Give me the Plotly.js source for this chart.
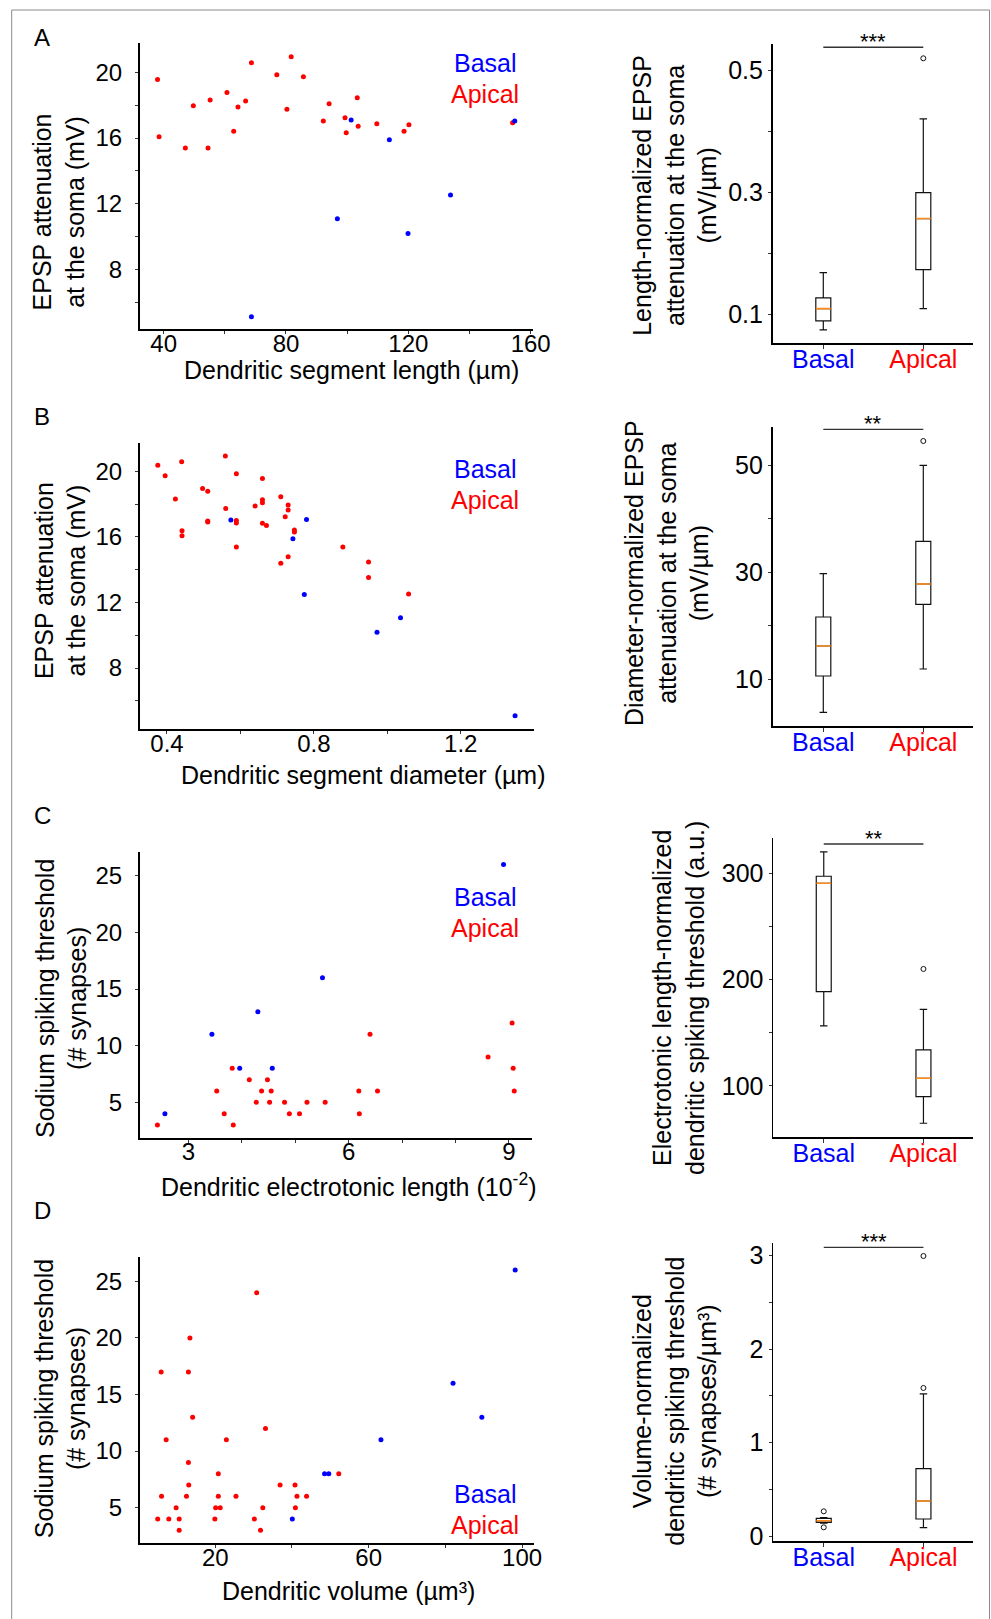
<!DOCTYPE html>
<html><head><meta charset="utf-8">
<script src="https://cdn.plot.ly/plotly-3.0.1.min.js"></script>
<style>html,body{margin:0;padding:0;background:#fff}#chart{width:991px;height:1619px}</style>
</head><body><div id="chart"></div>
<script>
// ---------- DATA ----------
// Panel A: EPSP attenuation vs segment length
const lenApicalX = [38.0, 38.5, 47.1, 49.7, 54.5, 55.2, 60.7, 62.9, 64.3, 66.8, 68.7, 77.0, 80.3, 81.7, 85.7, 92.2, 94.1, 99.3, 99.7, 103.3, 103.6, 109.7, 118.6, 120.2, 154.1];
const lenApicalY = [19.57, 16.08, 15.39, 17.97, 15.39, 18.31, 18.78, 16.41, 17.89, 18.25, 20.59, 19.86, 17.75, 20.95, 19.74, 17.04, 18.09, 17.24, 16.32, 18.46, 16.71, 16.87, 16.41, 16.81, 16.93];
const lenBasalX = [101.3, 113.8, 154.8, 96.8, 133.8, 119.9, 68.7];
const lenBasalY = [17.10, 15.90, 17.04, 11.09, 12.53, 10.19, 5.12];
// Panel B: EPSP attenuation vs segment diameter
const diaApicalX = [0.375, 0.395, 0.423, 0.440, 0.441, 0.441, 0.497, 0.511, 0.511, 0.511, 0.559, 0.560, 0.589, 0.589, 0.589, 0.589, 0.640, 0.660, 0.660, 0.660, 0.660, 0.671, 0.710, 0.710, 0.730, 0.730, 0.730, 0.722, 0.747, 0.747, 0.879, 0.949, 0.949, 1.058];
const diaApicalY = [20.37, 19.74, 18.31, 20.59, 16.38, 16.07, 18.96, 18.78, 16.97, 16.91, 20.94, 17.74, 19.86, 17.01, 16.85, 15.38, 17.88, 19.57, 18.27, 18.09, 16.83, 16.70, 18.45, 14.39, 17.95, 17.64, 14.79, 17.23, 16.42, 16.30, 15.38, 14.47, 13.53, 12.52];
const diaBasalX = [0.574, 0.780, 0.743, 0.774, 0.972, 1.036, 1.348];
const diaBasalY = [17.03, 17.07, 15.89, 12.49, 10.18, 11.07, 5.09];
// Panel C: spiking threshold vs electrotonic length
const eleApicalX = [2.42, 3.53, 3.67, 3.82, 3.84, 4.14, 4.27, 4.37, 4.48, 4.52, 4.55, 4.80, 4.89, 5.08, 5.22, 5.56, 6.19, 6.20, 6.40, 6.54, 8.61, 9.06, 9.08, 9.10];
const eleApicalY = [3, 6, 4, 8, 3, 7, 5, 6, 7, 5, 6, 5, 4, 4, 5, 5, 6, 4, 11, 6, 9, 12, 8, 6];
const eleBasalX = [2.56, 3.44, 3.96, 4.30, 4.57, 5.51, 8.90];
const eleBasalY = [4, 11, 8, 13, 8, 16, 26];
// Panel D: spiking threshold vs volume
const volApicalX = [5.0, 5.9, 6.0, 7.2, 7.9, 9.8, 10.6, 10.6, 12.5, 13.0, 13.0, 13.1, 13.4, 14.1, 19.9, 20.1, 20.8, 20.8, 21.3, 22.9, 25.4, 30.2, 30.8, 31.8, 32.4, 33.1, 36.9, 40.8, 40.9, 41.3, 43.8, 52.2];
const volApicalY = [4, 17, 6, 11, 4, 5, 4, 3, 6, 17, 9, 7, 20, 13, 4, 5, 8, 6, 5, 11, 6, 4, 24, 3, 5, 12, 7, 7, 5, 6, 6, 8];
const volBasalX = [40.1, 48.5, 49.6, 63.2, 82.0, 89.5, 98.2];
const volBasalY = [4, 8, 8, 11, 16, 13, 26];

// Box plot summaries: [Basal, Apical]
const boxGroups = ['Basal', 'Apical'];
const boxALower = [0.075, 0.1098], boxAQ1 = [0.0896, 0.1737], boxAMed = [0.1098, 0.2572], boxAQ3 = [0.1273, 0.2997], boxAUpper = [0.1688, 0.4203];
const boxAOutBasal = [], boxAOutApical = [0.5196];
const boxBLower = [3.84, 11.93], boxBQ1 = [10.62, 24.0], boxBMed = [16.22, 27.79], boxBQ3 = [21.63, 35.75], boxBUpper = [29.72, 49.94];
const boxBOutBasal = [], boxBOutApical = [54.48];
const boxCLower = [156.4, 64.9], boxCQ1 = [188.7, 90.0], boxCMed = [290.6, 107.2], boxCQ3 = [297.2, 133.9], boxCUpper = [320.1, 172.1];
const boxCOutBasal = [], boxCOutApical = [210.0];
const boxDLower = [0.14, 0.093], boxDQ1 = [0.149, 0.185], boxDMed = [0.167, 0.377], boxDQ3 = [0.192, 0.722], boxDUpper = [0.20, 1.520];
const boxDOutBasal = [0.267, 0.096], boxDOutApical = [1.584, 2.993];
const sigLevels = [0.5377, 56.66, 327.6, 3.085];
const sigLabels = ['***', '**', '**', '***'];

// ---------- LAYOUT HELPERS ----------
const W = 991, H = 1619;
const FONT = 'Liberation Sans, Arial, sans-serif';
const RED = '#ff0000', BLUE = '#0000ff';
const px = x => x / W;
const py = y => 1 - y / H;
const dom = (x0, x1, y0, y1) => ({x: [px(x0), px(x1)], y: [py(y1), py(y0)]});

const scatterDom = [dom(139.8, 533.1, 43.3, 329.3), dom(139.8, 533.8, 442.7, 729), dom(139.8, 532.4, 851.7, 1137.7), dom(139.8, 533.8, 1256.7, 1543.3)];
const boxDom = [dom(772.7, 973, 44, 343.3), dom(772.7, 973, 426.7, 726), dom(773.3, 973, 838.3, 1137.3), dom(773.3, 973, 1242.7, 1541)];

const scatterXRange = [[32.2, 160.8], [0.326, 1.399], [2.09, 9.44], [0.33, 103.05]];
const scatterYRange = [[4.35, 21.77], [4.28, 21.75], [1.88, 27.12], [1.85, 27.18]];
const scatterXTicks = [{tick0: 0, dtick: 40, minor: 20}, {tick0: 0, dtick: 0.4, minor: 0.2}, {tick0: 0, dtick: 3, minor: 1}, {tick0: 20, dtick: 40, minor: 20}];
const scatterYTicks = [{tick0: 0, dtick: 4, minor: 2}, {tick0: 0, dtick: 4, minor: 2}, {tick0: 0, dtick: 5, minor: null}, {tick0: 0, dtick: 5, minor: null}];
const boxYRange = [[0.053, 0.543], [1.29, 57.15], [51.7, 332.9], [-0.05, 3.135]];
const boxYTicks = [{tick0: 0.1, dtick: 0.2, minor: 0.1}, {tick0: 10, dtick: 20, minor: 10}, {tick0: 0, dtick: 100, minor: 50}, {tick0: 0, dtick: 1, minor: 0.5}];

function axisBase(extra) {
  return Object.assign({
    showline: true, linecolor: '#000', linewidth: 1.8, showgrid: false, zeroline: false,
    ticks: 'outside', ticklen: 3, tickwidth: 1, tickcolor: '#333',
    tickfont: {family: FONT, size: 24, color: '#000'}, fixedrange: true
  }, extra);
}

const layout = {
  width: W, height: H, margin: {l: 0, r: 0, t: 0, b: 0},
  paper_bgcolor: '#fff', plot_bgcolor: 'rgba(0,0,0,0)',
  showlegend: false, hovermode: false,
  font: {family: FONT, color: '#000'},
  annotations: [], shapes: []
};

const data = [];
const scatterSets = [
  [lenBasalX, lenBasalY, lenApicalX, lenApicalY],
  [diaBasalX, diaBasalY, diaApicalX, diaApicalY],
  [eleBasalX, eleBasalY, eleApicalX, eleApicalY],
  [volBasalX, volBasalY, volApicalX, volApicalY]
];

for (let i = 0; i < 4; i++) {
  const n = i + 1;
  const sfx = n === 1 ? '' : String(n);
  const xt = scatterXTicks[i], yt = scatterYTicks[i];
  layout['xaxis' + sfx] = axisBase({domain: scatterDom[i].x, range: scatterXRange[i], anchor: 'y' + sfx,
    tickmode: 'linear', tick0: xt.tick0, dtick: xt.dtick, ticklabelstandoff: -11,
    minor: {dtick: xt.minor, tick0: 0, ticks: 'outside', ticklen: 3, tickcolor: '#333', showgrid: false}});
  const ymin = yt.minor ? {dtick: yt.minor, tick0: 0, ticks: 'outside', ticklen: 3, tickcolor: '#333', showgrid: false} : {ticks: ''};
  layout['yaxis' + sfx] = axisBase({domain: scatterDom[i].y, range: scatterYRange[i], anchor: 'x' + sfx,
    tickmode: 'linear', tick0: yt.tick0, dtick: yt.dtick, minor: ymin, ticklabelstandoff: 8});
  const s = scatterSets[i];
  data.push({type: 'scatter', mode: 'markers', x: s[2], y: s[3], xaxis: 'x' + sfx, yaxis: 'y' + sfx,
    marker: {color: RED, size: 5, line: {width: 0}}, cliponaxis: false});
  data.push({type: 'scatter', mode: 'markers', x: s[0], y: s[1], xaxis: 'x' + sfx, yaxis: 'y' + sfx,
    marker: {color: BLUE, size: 5, line: {width: 0}}, cliponaxis: false});
}

const boxSets = [
  [boxALower, boxAQ1, boxAMed, boxAQ3, boxAUpper, boxAOutBasal, boxAOutApical],
  [boxBLower, boxBQ1, boxBMed, boxBQ3, boxBUpper, boxBOutBasal, boxBOutApical],
  [boxCLower, boxCQ1, boxCMed, boxCQ3, boxCUpper, boxCOutBasal, boxCOutApical],
  [boxDLower, boxDQ1, boxDMed, boxDQ3, boxDUpper, boxDOutBasal, boxDOutApical]
];
const positions = [0, 1];
const BOXW = 0.15;

for (let i = 0; i < 4; i++) {
  const n = i + 5;
  const xr = 'x' + n, yr = 'y' + n;
  const yt = boxYTicks[i];
  layout['xaxis' + n] = axisBase({domain: boxDom[i].x, range: [-0.506, 1.497], anchor: yr,
    tickmode: 'array', tickvals: positions,
    ticktext: ['<span style="color:' + BLUE + '">' + boxGroups[0] + '</span>', '<span style="color:' + RED + '">' + boxGroups[1] + '</span>'],
    tickfont: {family: FONT, size: 25}, ticklen: 4, ticklabelstandoff: -11});
  layout['yaxis' + n] = axisBase({domain: boxDom[i].y, range: boxYRange[i], anchor: xr,
    tickmode: 'linear', tick0: yt.tick0, dtick: yt.dtick, tickfont: {family: FONT, size: 25, color: '#000'},
    minor: {dtick: yt.minor, tick0: 0, ticks: 'outside', ticklen: 3, tickcolor: '#333', showgrid: false},
    ticklabelstandoff: 0});
  const b = boxSets[i];
  data.push({type: 'box', x: positions, lowerfence: b[0], q1: b[1], median: b[2], q3: b[3], upperfence: b[4],
    xaxis: xr, yaxis: yr, width: BOXW, whiskerwidth: 0.5, boxpoints: false,
    line: {color: '#111', width: 1.2}, fillcolor: 'rgba(0,0,0,0)'});
  // orange medians
  const mx = [], my = [];
  positions.forEach((p, k) => { mx.push(p - BOXW / 2, p + BOXW / 2, null); my.push(b[2][k], b[2][k], null); });
  data.push({type: 'scatter', mode: 'lines', x: mx, y: my, xaxis: xr, yaxis: yr,
    line: {color: '#ff8c1a', width: 1.6}});
  // outliers
  const ox = [], oy = [];
  b[5].forEach(v => { ox.push(positions[0]); oy.push(v); });
  b[6].forEach(v => { ox.push(positions[1]); oy.push(v); });
  data.push({type: 'scatter', mode: 'markers', x: ox, y: oy, xaxis: xr, yaxis: yr, cliponaxis: false,
    marker: {symbol: 'circle-open', size: 5, color: '#111', line: {width: 1, color: '#111'}}});
  // significance bar
  layout.shapes.push({type: 'line', xref: xr, yref: yr, x0: positions[0], x1: positions[1], y0: sigLevels[i], y1: sigLevels[i],
    line: {color: '#333', width: 1.4}});
  layout.annotations.push({xref: xr, yref: yr, x: (positions[0] + positions[1]) / 2, y: sigLevels[i],
    text: sigLabels[i], showarrow: false, yanchor: 'bottom', yshift: -9, font: {family: FONT, size: 22, color: '#000'}});
}

function ann(x, y, text, opts) {
  layout.annotations.push(Object.assign({xref: 'paper', yref: 'paper', x: px(x), y: py(y), text: text,
    showarrow: false, xanchor: 'center', yanchor: 'middle', font: {family: FONT, size: 25, color: '#000'}}, opts || {}));
}

// panel letters
ann(41.5, 37.5, 'A', {font: {family: FONT, size: 24}});
ann(42, 416.7, 'B', {font: {family: FONT, size: 24}});
ann(42, 815, 'C', {font: {family: FONT, size: 24}});
ann(42, 1210, 'D', {font: {family: FONT, size: 24}});

// scatter legends
const legendY = [[63.3, 94], [469.3, 500], [896.7, 927.7], [1494, 1525]];
legendY.forEach(l => {
  ann(485, l[0], 'Basal', {font: {family: FONT, size: 25, color: BLUE}});
  ann(485, l[1], 'Apical', {font: {family: FONT, size: 25, color: RED}});
});

// scatter axis titles
ann(351.4, 370, 'Dendritic segment length (µm)');
ann(363.8, 775, 'Dendritic segment diameter (µm)');
ann(348.3, 1185, 'Dendritic electrotonic length (10<sup>-2</sup>)');
ann(348.9, 1591, 'Dendritic volume (µm³)');
ann(58.8, 211.6, 'EPSP attenuation<br>at the soma (mV)', {textangle: -90});
ann(60.5, 580.6, 'EPSP attenuation<br>at the soma (mV)', {textangle: -90});
ann(61.3, 998.7, 'Sodium spiking threshold<br>(# synapses)', {textangle: -90});
ann(60.5, 1398.7, 'Sodium spiking threshold<br>(# synapses)', {textangle: -90});

// box axis titles
ann(675, 195.8, 'Length-normalized EPSP<br>attenuation at the soma<br>(mV/µm)', {textangle: -90});
ann(666, 573, 'Diameter-normalized EPSP<br>attenuation at the soma<br>(mV/µm)', {textangle: -90});
ann(678, 998, 'Electrotonic length-normalized<br>dendritic spiking threshold (a.u.)', {textangle: -90});
ann(675, 1401.7, 'Volume-normalized<br>dendritic spiking threshold<br>(# synapses/µm³)', {textangle: -90});

// outer frame
layout.shapes.push({type: 'line', xref: 'paper', yref: 'paper', x0: px(11.7), x1: px(11.7), y0: py(10), y1: py(1625), line: {color: '#8a8a8a', width: 1}});
layout.shapes.push({type: 'line', xref: 'paper', yref: 'paper', x0: px(11.7), x1: px(989.5), y0: py(10), y1: py(10), line: {color: '#8a8a8a', width: 1}});
layout.shapes.push({type: 'line', xref: 'paper', yref: 'paper', x0: px(989.5), x1: px(989.5), y0: py(10), y1: py(1625), line: {color: '#8a8a8a', width: 1}});

Plotly.newPlot('chart', data, layout, {displayModeBar: false, staticPlot: true});
</script>
</body></html>
